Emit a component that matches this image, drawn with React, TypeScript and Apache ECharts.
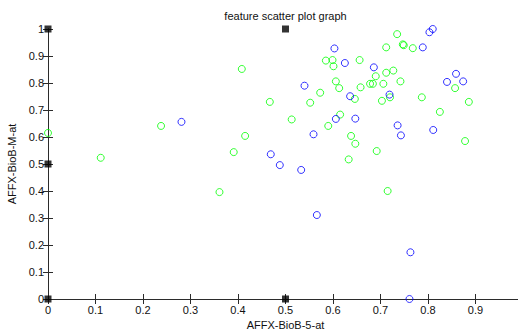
import React, { useEffect, useRef } from "react";
import * as echarts from "echarts";

const TITLE = "feature scatter plot graph";
const X_NAME = "AFFX-BioB-5-at";
const Y_NAME = "AFFX-BioB-M-at";

const greenX = [0.0, 0.111, 0.238, 0.391, 0.408, 0.415, 0.361, 0.735, 0.712, 0.747, 0.749, 0.768, 0.585, 0.599, 0.601, 0.656, 0.727, 0.712, 0.69, 0.606, 0.742, 0.613, 0.658, 0.678, 0.684, 0.706, 0.573, 0.857, 0.467, 0.552, 0.646, 0.703, 0.72, 0.787, 0.886, 0.513, 0.615, 0.825, 0.59, 0.638, 0.647, 0.878, 0.692, 0.633, 0.715];
const greenY = [0.615, 0.523, 0.641, 0.544, 0.852, 0.604, 0.396, 0.981, 0.932, 0.943, 0.94, 0.929, 0.883, 0.885, 0.862, 0.885, 0.846, 0.838, 0.825, 0.806, 0.806, 0.781, 0.784, 0.797, 0.797, 0.797, 0.764, 0.781, 0.73, 0.727, 0.741, 0.734, 0.747, 0.747, 0.73, 0.665, 0.683, 0.693, 0.641, 0.604, 0.575, 0.585, 0.548, 0.517, 0.4];

const blueX = [0.281, 0.81, 0.803, 0.789, 0.603, 0.625, 0.686, 0.54, 0.859, 0.84, 0.874, 0.636, 0.719, 0.606, 0.647, 0.736, 0.743, 0.811, 0.559, 0.469, 0.488, 0.533, 0.566, 0.763, 0.761];
const blueY = [0.656, 1.0, 0.988, 0.932, 0.928, 0.874, 0.858, 0.79, 0.834, 0.804, 0.806, 0.751, 0.757, 0.667, 0.668, 0.643, 0.606, 0.626, 0.61, 0.536, 0.496, 0.478, 0.311, 0.173, 0.0];

const markerX = [0, 0, 0, 0.5, 0.5];
const markerY = [0, 0.5, 1, 0, 1];

const FONT = "'Liberation Sans', Arial, sans-serif";
const AXIS_COLOR = "#2b2b2b";

export default function App() {
  const ref = useRef<HTMLDivElement>(null);
  useEffect(() => {
    if (!ref.current) return;
    const chart = echarts.init(ref.current, undefined, { renderer: "svg" });
    const zip = (xs: number[], ys: number[]) => xs.map((x, i) => [x, ys[i]]);
    const tickStyle = { show: true, inside: true, length: 5, lineStyle: { color: AXIS_COLOR, width: 1 } };
    chart.setOption({
      animation: false,
      backgroundColor: "#ffffff",
      grid: { left: 48, top: 29, width: 475, height: 270, containLabel: false, outerBoundsMode: "none" },
      xAxis: [
        {
          type: "value",
          min: 0,
          max: 1,
          interval: 0.1,
          position: "bottom",
          name: X_NAME,
          nameLocation: "middle",
          nameGap: 18,
          nameTextStyle: { fontFamily: FONT, fontSize: 11, color: "#111" },
          axisLine: { show: true, lineStyle: { color: AXIS_COLOR, width: 1 } },
          axisTick: tickStyle,
          axisLabel: { fontFamily: FONT, fontSize: 11, color: "#111", margin: 5, showMaxLabel: false },
          splitLine: { show: false },
        },
        {
          type: "value",
          min: 0,
          max: 1,
          interval: 0.1,
          position: "top",
          name: TITLE,
          nameLocation: "middle",
          nameGap: 8,
          nameTextStyle: { fontFamily: FONT, fontSize: 11, color: "#111" },
          axisLine: { show: true, lineStyle: { color: AXIS_COLOR, width: 1 } },
          axisTick: tickStyle,
          axisLabel: { show: false },
          splitLine: { show: false },
        },
      ],
      yAxis: [
        {
          type: "value",
          min: 0,
          max: 1,
          interval: 0.1,
          position: "left",
          name: Y_NAME,
          nameLocation: "middle",
          nameGap: 24,
          nameRotate: 90,
          nameTextStyle: { fontFamily: FONT, fontSize: 11, color: "#111" },
          axisLine: { show: true, lineStyle: { color: AXIS_COLOR, width: 1 } },
          axisTick: tickStyle,
          axisLabel: { fontFamily: FONT, fontSize: 11, color: "#111", margin: 4 },
          splitLine: { show: false },
        },
        {
          type: "value",
          min: 0,
          max: 1,
          interval: 0.1,
          position: "right",
          axisLine: { show: true, lineStyle: { color: AXIS_COLOR, width: 1 } },
          axisTick: tickStyle,
          axisLabel: { show: false },
          splitLine: { show: false },
        },
      ],
      series: [
        {
          type: "scatter",
          data: zip(greenX, greenY),
          symbol: "circle",
          symbolSize: 7,
          clip: false,
          itemStyle: { color: "rgba(0,0,0,0)", borderColor: "#00ff00", borderWidth: 1 },
          z: 3,
        },
        {
          type: "scatter",
          data: zip(blueX, blueY),
          symbol: "circle",
          symbolSize: 7,
          clip: false,
          itemStyle: { color: "rgba(0,0,0,0)", borderColor: "#0000ff", borderWidth: 1 },
          z: 3,
        },
        {
          type: "scatter",
          data: zip(markerX, markerY),
          symbol: "rect",
          symbolSize: 7,
          clip: false,
          itemStyle: { color: "#000000" },
          z: 10,
        },
      ],
    });
    return () => chart.dispose();
  }, []);
  return (
    <div
      ref={ref}
      style={{ position: "fixed", left: 0, top: 0, width: 518, height: 331 }}
    />
  );
}
